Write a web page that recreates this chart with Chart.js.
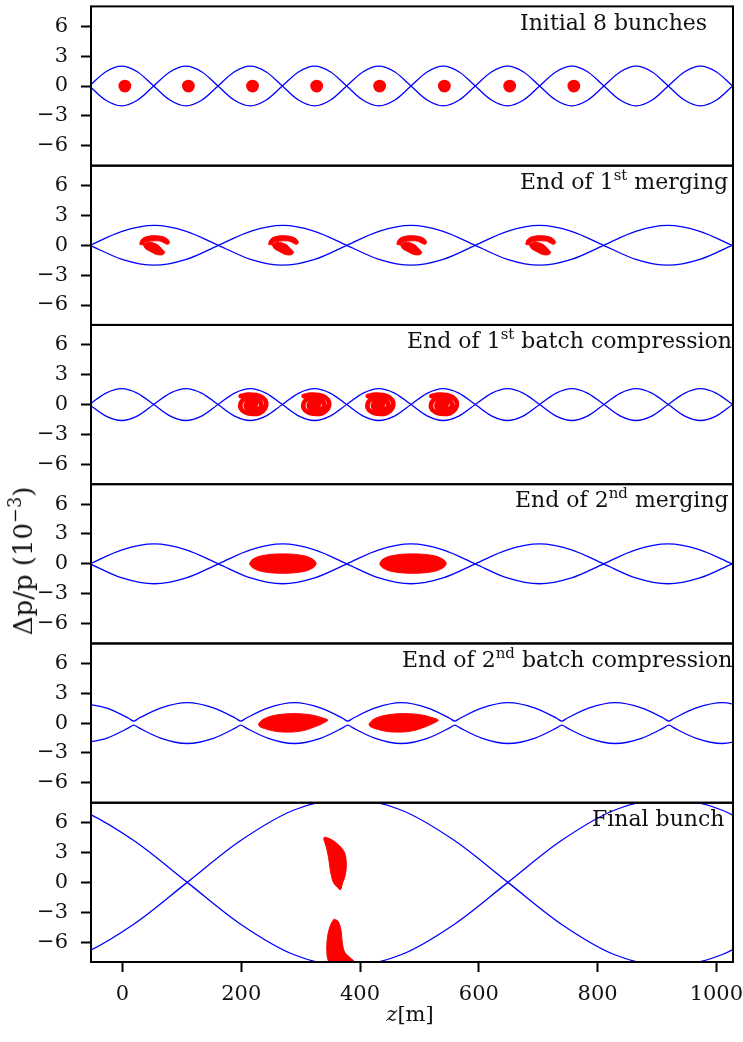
<!DOCTYPE html>
<html lang="en">
<head>
<meta charset="utf-8">
<title>Bunch merging and batch compression</title>
<script src="https://cdn.jsdelivr.net/npm/chart.js@4.4.1/dist/chart.umd.min.js"></script>
<style>
  html, body { margin: 0; padding: 0; background: #fff; }
  #figure { position: relative; width: 743px; height: 1042px; font-family: "DejaVu Serif", serif; color: #111; }
  #figure canvas { position: absolute; left: 0; top: 0; }
  #panel-labels { position: absolute; left: 91px; top: 3px; width: 642px; height: 959px; overflow: hidden; pointer-events: none; }
  .panel-label { position: absolute; font-size: 22px; line-height: 1; white-space: nowrap; }
  .panel-label sup, .axis-label sup { font-size: 0.68em; vertical-align: baseline; position: relative; top: -0.6em; }
  .axis-label { position: absolute; font-size: 21px; line-height: 1; white-space: nowrap; }
  #x-label { left: 410px; top: 1014px; transform: translate(-50%, -50%); }
  #y-label { left: 23px; top: 561px; font-size: 26px; transform: translate(-50%, -50%) rotate(-90deg); }
</style>
</head>
<body>
<div id="figure">
  <canvas id="chart" width="743" height="1042"></canvas>
  <div id="panel-labels"></div>
  <div id="x-label" class="axis-label"><i>z</i>[m]</div>
  <div id="y-label" class="axis-label">Δp/p (10<sup>−3</sup>)</div>
</div>
<script>
// --- axes ---
const zMin = -53;
const zMax = 1028;
const xTicks = [0, 200, 400, 600, 800, 1000];
const yTicks = [-6, -3, 0, 3, 6];

// --- panel titles (left edge of text in page px) ---
const panelTitles = [
    'Initial 8 bunches',
    'End of 1<sup>st</sup> merging',
    'End of 1<sup>st</sup> batch compression',
    'End of 2<sup>nd</sup> merging',
    'End of 2<sup>nd</sup> batch compression',
    'Final bunch'
];
const panelTitleLeft = [520, 520, 407, 515, 402, 592];

// --- separatrices, panels 1 and 3 (short buckets) ---
const zNarrow = [-55.7, -28.6, -1.5, 25.6, 52.6, 79.7, 106.8, 133.9, 160.9, 188.0, 215.1, 242.2, 269.2, 296.3,
    323.4, 350.5, 377.5, 404.6, 431.7, 458.8, 485.8, 512.9, 540.0, 567.1, 594.1, 621.2, 648.3, 675.4, 702.4,
    729.5, 756.6, 783.7, 810.7, 837.8, 864.9, 892.0, 919.0, 946.1, 973.2, 1000.3, 1027.3, 1054.4];
const sepUpper1 = [0, 1.41, 2, 1.41, 0, -1.41, -2, -1.41, 0, 1.41, 2, 1.41, 0, -1.41, -2, -1.41, 0, 1.41, 2, 1.41,
    0, -1.41, -2, -1.41, 0, 1.41, 2, 1.41, 0, -1.41, -2, -1.41, 0, 1.41, 2, 1.41, 0, -1.41, -2, -1.41, 0, 1.41];
const sepLower1 = [0, -1.41, -2, -1.41, 0, 1.41, 2, 1.41, 0, -1.41, -2, -1.41, 0, 1.41, 2, 1.41, 0, -1.41, -2, -1.41,
    0, 1.41, 2, 1.41, 0, -1.41, -2, -1.41, 0, 1.41, 2, 1.41, 0, -1.41, -2, -1.41, 0, 1.41, 2, 1.41, 0, -1.41];
const sepUpper3 = [0, 1.13, 1.6, 1.13, 0, -1.13, -1.6, -1.13, 0, 1.13, 1.6, 1.13, 0, -1.13, -1.6, -1.13, 0, 1.13, 1.6, 1.13,
    0, -1.13, -1.6, -1.13, 0, 1.13, 1.6, 1.13, 0, -1.13, -1.6, -1.13, 0, 1.13, 1.6, 1.13, 0, -1.13, -1.6, -1.13, 0, 1.13];
const sepLower3 = [0, -1.13, -1.6, -1.13, 0, 1.13, 1.6, 1.13, 0, -1.13, -1.6, -1.13, 0, 1.13, 1.6, 1.13, 0, -1.13, -1.6, -1.13,
    0, 1.13, 1.6, 1.13, 0, -1.13, -1.6, -1.13, 0, 1.13, 1.6, 1.13, 0, -1.13, -1.6, -1.13, 0, 1.13, 1.6, 1.13, 0, -1.13];

// --- separatrices, panels 2 and 4 (long buckets) ---
const zWide = [-54.7, -0.7, 53.4, 107.5, 161.5, 215.6, 269.6, 323.7, 377.7, 431.8, 485.8, 539.9, 593.9, 648.0,
    702.0, 756.1, 810.1, 864.2, 918.2, 972.3, 1026.3, 1080.4];
const sepWideUpper = [0, 1.41, 2, 1.41, 0, -1.41, -2, -1.41, 0, 1.41, 2, 1.41, 0, -1.41, -2, -1.41, 0, 1.41, 2, 1.41, 0, -1.41];
const sepWideLower = [0, -1.41, -2, -1.41, 0, 1.41, 2, 1.41, 0, -1.41, -2, -1.41, 0, 1.41, 2, 1.41, 0, -1.41, -2, -1.41, 0, 1.41];

// --- separatrices, panel 5 (curves touch without crossing) ---
const z5 = [-71.1, -26, 11, 19, 27, 64, 109.1, 154.2, 191.2, 199.2, 207.2, 244.3, 289.3, 334.4, 371.4, 379.4, 387.4,
    424.5, 469.5, 514.6, 551.6, 559.6, 567.6, 604.7, 649.7, 694.8, 731.8, 739.8, 747.8, 784.9, 829.9, 875, 912,
    920, 928, 965.1, 1010.1, 1055.2];
const sepUpper5 = [2.05, 1.5, 0.46, 0.2, 0.46, 1.5, 2.05, 1.5, 0.46, 0.2, 0.46, 1.5, 2.05, 1.5, 0.46, 0.2, 0.46,
    1.5, 2.05, 1.5, 0.46, 0.2, 0.46, 1.5, 2.05, 1.5, 0.46, 0.2, 0.46, 1.5, 2.05, 1.5, 0.46, 0.2, 0.46, 1.5, 2.05, 1.5];
const sepLower5 = [-2.05, -1.5, -0.46, -0.2, -0.46, -1.5, -2.05, -1.5, -0.46, -0.2, -0.46, -1.5, -2.05, -1.5, -0.46, -0.2, -0.46,
    -1.5, -2.05, -1.5, -0.46, -0.2, -0.46, -1.5, -2.05, -1.5, -0.46, -0.2, -0.46, -1.5, -2.05, -1.5, -0.46, -0.2, -0.46, -1.5, -2.05, -1.5];

// --- separatrices, panel 6 (one big bucket) ---
const z6 = [-161, -71, 19, 109, 199, 289, 379, 469, 559, 649, 739, 829, 919, 1009, 1099];
const sepUpper6 = [-8.4, -7.27, -4.2, 0, 4.2, 7.27, 8.4, 7.27, 4.2, 0, -4.2, -7.27, -8.4, -7.27, -4.2];
const sepLower6 = [8.4, 7.27, 4.2, 0, -4.2, -7.27, -8.4, -7.27, -4.2, 0, 4.2, 7.27, 8.4, 7.27, 4.2];

// --- bunches ---
const dotZ = [4, 111, 219, 327, 433, 542, 652, 760];
const dotDp = [0, 0, 0, 0, 0, 0, 0, 0];

const merge1Centers = [53, 270, 486, 703];
const merge1Arc = [[-24, 0.1], [-22, 0.5], [-16, 0.8], [-5, 0.95], [6, 0.95], [16, 0.85], [23, 0.62], [26, 0.35],
    [24, 0.1], [18, 0.2], [12, 0.4], [3, 0.45], [-6, 0.42], [-14, 0.3], [-19, 0.05]];
const merge1Blob = [[-18, 0.05], [-11, 0.28], [-2, 0.25], [6, 0.05], [13, -0.35], [18, -0.72], [14, -0.95], [4, -0.92],
    [-5, -0.65], [-14, -0.35]];

const spiralCenters = [219, 325, 433, 540];
const spiralPath = [[-20, 0.85], [-8, 1.0], [6, 0.95], [17, 0.7], [23, 0.2], [21, -0.4], [12, -0.85], [0, -0.95],
    [-12, -0.8], [-20, -0.35], [-19, 0.25], [-12, 0.6], [-1, 0.64], [10, 0.42], [15, -0.05], [9, -0.48], [-3, -0.55],
    [-11, -0.2], [-8, 0.22], [0, 0.28], [6, 0.05], [2, -0.2], [-4, -0.05]];

const merge2Centers = [270, 489];
const merge2Outline = [[-56, 0.0], [-52, 0.4], [-40, 0.75], [-20, 0.95], [0, 1.0], [20, 0.95], [40, 0.75], [53, 0.35],
    [56, 0.0], [52, -0.35], [40, -0.7], [20, -0.9], [0, -0.95], [-20, -0.9], [-40, -0.7], [-52, -0.35]];

const compress2Centers = [288, 474];
const compress2Outline = [[-59, -0.1], [-52, 0.35], [-38, 0.7], [-18, 0.9], [7, 0.95], [32, 0.8], [50, 0.5], [58, 0.3],
    [52, 0.05], [37, -0.35], [17, -0.75], [-3, -0.9], [-28, -0.85], [-46, -0.6], [-57, -0.35]];

const finalUpper = [[340, 4.55], [352, 4.3], [365, 3.7], [374, 3.0], [377, 1.8], [375, 0.7], [371, 0.0], [367, -0.75],
    [362, -0.5], [355, 0.0], [350, 1.2], [347, 2.5], [343, 3.6], [339, 4.35]];
const finalLower = [[357, -3.7], [363, -3.9], [368, -4.8], [370, -6.0], [374, -7.0], [384, -7.6], [390, -7.95],
    [375, -8.0], [360, -8.0], [347, -7.9], [344, -6.6], [346, -5.2], [351, -4.2], [356, -3.7]];

const BLUE = '#0000ff';
const RED = '#ff0000';
const panelIds = ['y0', 'y1', 'y2', 'y3', 'y4', 'y5'];

Chart.defaults.font.family = '"DejaVu Serif", serif';

/**
 * Formats tick values with a true minus sign.
 */
function fmtTick(v) {
    return v < 0 ? '\u2212' + Math.abs(v) : String(v);
}

/**
 * Blue separatrix line of a panel.
 */
function separatrix(axisId, zs, dps) {
    return {
        type: 'line',
        yAxisID: axisId,
        data: zs.map((z, i) => ({ x: z, y: dps[i] })),
        borderColor: BLUE,
        borderWidth: 1.3,
        pointRadius: 0,
        fill: false,
        cubicInterpolationMode: 'monotone',
        order: 2
    };
}

/**
 * Filled red bunch outline placed around a centre position.
 */
function bunchShape(axisId, cz, outline) {
    const pts = outline.map(([dz, dp]) => ({ x: cz + dz, y: dp }));
    pts.push(pts[0]);
    return {
        type: 'line',
        yAxisID: axisId,
        data: pts,
        borderColor: RED,
        backgroundColor: RED,
        borderWidth: 1,
        pointRadius: 0,
        fill: 'shape',
        tension: 0.3,
        order: 1
    };
}

/**
 * Thick red spiral arm (filamented bunch).
 */
function bunchTrail(axisId, cz, path) {
    return {
        type: 'line',
        yAxisID: axisId,
        data: path.map(([dz, dp]) => ({ x: cz + dz, y: dp })),
        borderColor: RED,
        borderWidth: 4.6,
        borderCapStyle: 'round',
        borderJoinStyle: 'round',
        pointRadius: 0,
        fill: false,
        tension: 0.4,
        order: 1
    };
}

/**
 * One stacked y axis per panel.
 */
function panelAxis() {
    return {
        type: 'linear',
        position: 'left',
        stack: 'panels',
        stackWeight: 1,
        min: -8,
        max: 8,
        afterBuildTicks: s => { s.ticks = yTicks.map(v => ({ value: v })); },
        afterFit: s => { s.width = 91; s.paddingTop = 0; s.paddingBottom = 0; },
        ticks: { font: { size: 21 }, color: '#111', padding: 13, autoSkip: false, callback: v => fmtTick(v) },
        grid: { drawOnChartArea: false, tickLength: 10, tickWidth: 2, tickColor: '#000' },
        border: { display: false }
    };
}

const datasets = [
    {
        type: 'line',
        yAxisID: 'y0',
        data: dotZ.map((z, i) => ({ x: z, y: dotDp[i] })),
        showLine: false,
        pointRadius: 6.4,
        pointBorderWidth: 0,
        pointBackgroundColor: RED,
        order: 1
    },
    separatrix('y0', zNarrow, sepUpper1),
    separatrix('y0', zNarrow, sepLower1),
    separatrix('y1', zWide, sepWideUpper),
    separatrix('y1', zWide, sepWideLower),
    separatrix('y2', zNarrow, sepUpper3),
    separatrix('y2', zNarrow, sepLower3),
    separatrix('y3', zWide, sepWideUpper),
    separatrix('y3', zWide, sepWideLower),
    separatrix('y4', z5, sepUpper5),
    separatrix('y4', z5, sepLower5),
    separatrix('y5', z6, sepUpper6),
    separatrix('y5', z6, sepLower6),
    ...merge1Centers.map(c => bunchShape('y1', c, merge1Arc)),
    ...merge1Centers.map(c => bunchShape('y1', c, merge1Blob)),
    ...spiralCenters.map(c => bunchTrail('y2', c, spiralPath)),
    ...merge2Centers.map(c => bunchShape('y3', c, merge2Outline)),
    ...compress2Centers.map(c => bunchShape('y4', c, compress2Outline)),
    bunchShape('y5', 0, finalUpper),
    bunchShape('y5', 0, finalLower)
];

// clip every dataset to its own panel
const panelClip = {
    id: 'panelClip',
    beforeDatasetDraw(chart, args) {
        const s = args.meta.yScale;
        const a = chart.chartArea;
        chart.ctx.save();
        chart.ctx.beginPath();
        chart.ctx.rect(a.left, s.top, a.right - a.left, s.bottom - s.top);
        chart.ctx.clip();
    },
    afterDatasetDraw(chart) {
        chart.ctx.restore();
    }
};

// black box around each panel
const panelFrames = {
    id: 'panelFrames',
    afterDatasetsDraw(chart) {
        const { ctx, chartArea } = chart;
        ctx.save();
        ctx.strokeStyle = '#000';
        ctx.lineWidth = 2;
        panelIds.forEach(id => {
            const s = chart.scales[id];
            ctx.strokeRect(chartArea.left, s.top, chartArea.right - chartArea.left, s.bottom - s.top);
        });
        ctx.restore();
    }
};

const scales = {
    x: {
        type: 'linear',
        position: 'bottom',
        min: zMin,
        max: zMax,
        afterBuildTicks: s => { s.ticks = xTicks.map(v => ({ value: v })); },
        afterFit: s => { s.height = 80; s.paddingLeft = 0; s.paddingRight = 0; },
        ticks: { font: { size: 21 }, color: '#111', padding: 10, maxRotation: 0, autoSkip: false, callback: v => fmtTick(v) },
        grid: { drawOnChartArea: false, tickLength: 10, tickWidth: 2, tickColor: '#000' },
        border: { display: false }
    }
};
// stacked axes are laid out bottom-up, so the last panel goes in first
panelIds.slice().reverse().forEach(id => { scales[id] = panelAxis(); });

const chart = new Chart(document.getElementById('chart'), {
    type: 'line',
    data: { datasets },
    options: {
        responsive: false,
        animation: false,
        layout: { padding: { left: 0, right: 10, top: 3, bottom: 0 } },
        plugins: { legend: { display: false }, tooltip: { enabled: false } },
        scales
    },
    plugins: [panelClip, panelFrames]
});

// panel titles as HTML text, placed from the panel scale tops
const labelBox = document.getElementById('panel-labels');
labelBox.innerHTML = panelTitles.map((t, i) => {
    const s = chart.scales[panelIds[i]];
    const top = s.top - 3 + 5.2;
    return `<div class="panel-label" style="left: ${panelTitleLeft[i] - 91}px; top: ${top}px;">${t}</div>`;
}).join('');
</script>
</body>
</html>
